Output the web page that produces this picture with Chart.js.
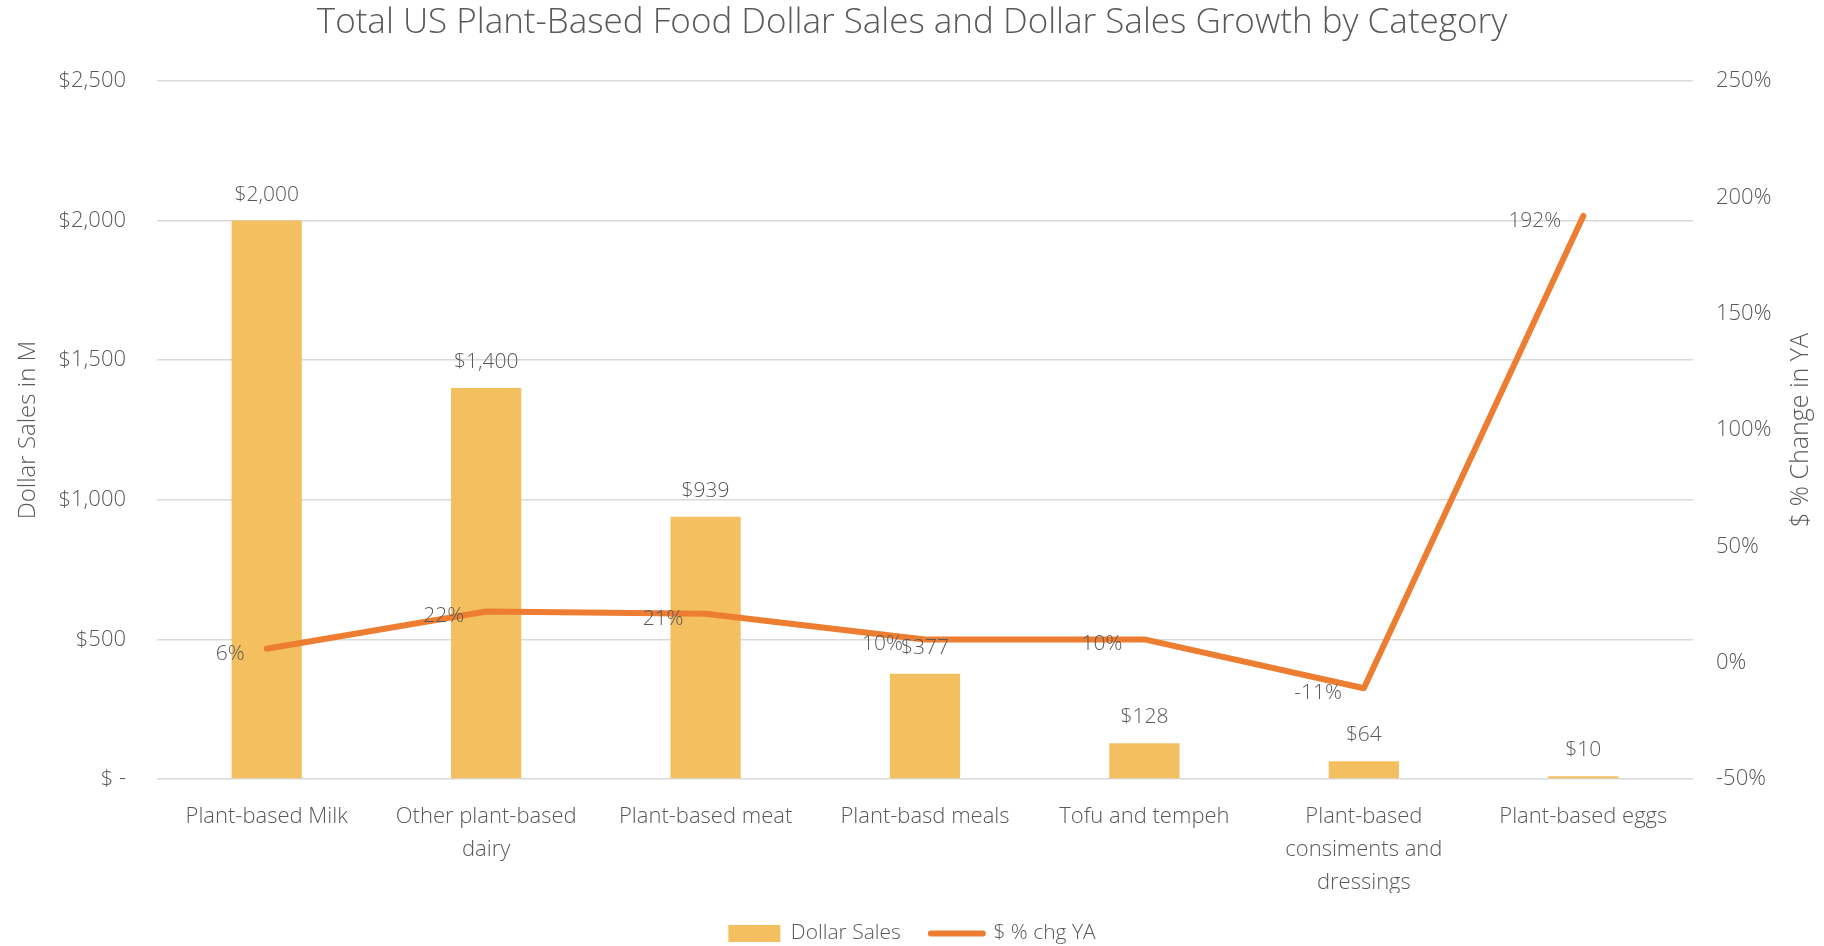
<!DOCTYPE html>
<html>
<head>
<meta charset="utf-8">
<script src="https://cdn.jsdelivr.net/npm/chart.js@4.4.0/dist/chart.umd.min.js"></script>
<style>
  html, body { margin: 0; padding: 0; background: #ffffff; }
  #wrap { width: 1824px; height: 946px; }
</style>
</head>
<body>
<div id="wrap"><canvas id="chart" width="1824" height="946"></canvas></div>
<script>
// Category names (multi-line where the axis wraps them)
const categories = [
  "Plant-based Milk",
  ["Other plant-based", "dairy"],
  "Plant-based meat",
  "Plant-basd meals",
  "Tofu and tempeh",
  ["Plant-based", "consiments and", "dressings"],
  "Plant-based eggs"
];
// Dollar sales in millions
const dollarSales = [2000, 1400, 939, 377, 128, 64, 10];
// Dollar sales % change vs. year ago
const pctChange = [6, 22, 21, 10, 10, -11, 192];

const TEXT = '#595959';
const FONT = "'Open Sans', 'Segoe UI', sans-serif";
const BAR_COLOR = '#F4BF5E';
const LINE_COLOR = '#ED7D31';
const RIGHT_TITLE = '$ % Change in YA';

function money(v) {
  return '$' + v.toLocaleString('en-US');
}

// Draws the value labels: above each bar and to the left of each line point
const valueLabels = {
  id: 'valueLabels',
  afterDatasetsDraw(chart) {
    const ctx = chart.ctx;
    ctx.save();
    ctx.font = '300 21px ' + FONT;
    ctx.fillStyle = TEXT;
    ctx.textBaseline = 'middle';

    const barMeta = chart.getDatasetMeta(0);
    ctx.textAlign = 'center';
    barMeta.data.forEach((bar, i) => {
      ctx.fillText(money(dollarSales[i]), bar.x, bar.y - 26);
    });

    const lineMeta = chart.getDatasetMeta(1);
    ctx.textAlign = 'right';
    lineMeta.data.forEach((pt, i) => {
      ctx.fillText(pctChange[i] + '%', pt.x - 22, pt.y + 5);
    });
    ctx.restore();
  }
};

// Right axis title, read bottom-to-top like the left one
const rightTitle = {
  id: 'rightTitle',
  afterDraw(chart) {
    const ctx = chart.ctx;
    const area = chart.chartArea;
    const scale = chart.scales.y1;
    ctx.save();
    ctx.font = '300 25px ' + FONT;
    ctx.fillStyle = TEXT;
    ctx.textAlign = 'center';
    ctx.textBaseline = 'middle';
    ctx.translate(scale.right - 23, (area.top + area.bottom) / 2);
    ctx.rotate(-Math.PI / 2);
    ctx.fillText(RIGHT_TITLE, 0, 0);
    ctx.restore();
  }
};

new Chart(document.getElementById('chart'), {
  data: {
    labels: categories,
    datasets: [
      {
        type: 'bar',
        label: 'Dollar Sales',
        data: dollarSales,
        backgroundColor: BAR_COLOR,
        borderWidth: 0,
        yAxisID: 'y',
        order: 2,
        categoryPercentage: 1.0,
        barPercentage: 0.32
      },
      {
        type: 'line',
        label: '$ % chg YA',
        data: pctChange,
        borderColor: LINE_COLOR,
        backgroundColor: LINE_COLOR,
        borderWidth: 6,
        borderCapStyle: 'round',
        borderJoinStyle: 'round',
        pointRadius: 0,
        pointHoverRadius: 0,
        tension: 0,
        yAxisID: 'y1',
        order: 1
      }
    ]
  },
  options: {
    responsive: false,
    animation: false,
    layout: { padding: { left: 0, right: 0, top: 0, bottom: -8 } },
    plugins: {
      tooltip: { enabled: false },
      title: {
        display: true,
        text: 'Total US Plant-Based Food Dollar Sales and Dollar Sales Growth by Category',
        color: TEXT,
        font: { family: FONT, size: 35, weight: '300' },
        padding: { top: 2, bottom: 37 }
      },
      legend: {
        position: 'bottom',
        labels: {
          color: TEXT,
          font: { family: FONT, size: 21, weight: '300' },
          usePointStyle: true,
          pointStyleWidth: 52,
          boxHeight: 17,
          padding: 30,
          sort: (a, b) => a.datasetIndex - b.datasetIndex,
          generateLabels(chart) {
            const items = Chart.defaults.plugins.legend.labels.generateLabels(chart);
            items.forEach(it => {
              if (it.datasetIndex === 0) {
                it.pointStyle = 'rect';
                it.lineWidth = 0;
                it.strokeStyle = BAR_COLOR;
              } else {
                it.pointStyle = 'line';
                it.lineWidth = 6;
                it.strokeStyle = LINE_COLOR;
                it.lineCap = 'round';
              }
            });
            return items;
          }
        }
      }
    },
    scales: {
      x: {
        grid: { display: false },
        border: { display: false },
        ticks: {
          color: TEXT,
          font: { family: FONT, size: 22, weight: '300', lineHeight: 1.5 },
          maxRotation: 0,
          autoSkip: false,
          padding: 13
        },
        afterFit(scale) { scale.height = 114; }
      },
      y: {
        position: 'left',
        min: 0,
        max: 2500,
        grid: { color: '#D9D9D9', lineWidth: 1.5, drawTicks: false },
        border: { display: false },
        ticks: {
          stepSize: 500,
          color: TEXT,
          font: { family: FONT, size: 22, weight: '300' },
          padding: 31,
          callback: v => v === 0 ? '$ -' : money(v)
        },
        title: {
          display: true,
          text: 'Dollar Sales in M',
          color: TEXT,
          font: { family: FONT, size: 24, weight: '300' },
          padding: { top: 14, bottom: 0 }
        },
        afterFit(scale) { scale.width = 157; }
      },
      y1: {
        position: 'right',
        min: -50,
        max: 250,
        grid: { display: false, drawTicks: false },
        border: { display: false },
        ticks: {
          stepSize: 50,
          color: TEXT,
          font: { family: FONT, size: 22, weight: '300' },
          padding: 23,
          callback: v => v + '%'
        },
        afterFit(scale) { scale.width = 131; }
      }
    }
  },
  plugins: [valueLabels, rightTitle]
});
</script>
</body>
</html>
